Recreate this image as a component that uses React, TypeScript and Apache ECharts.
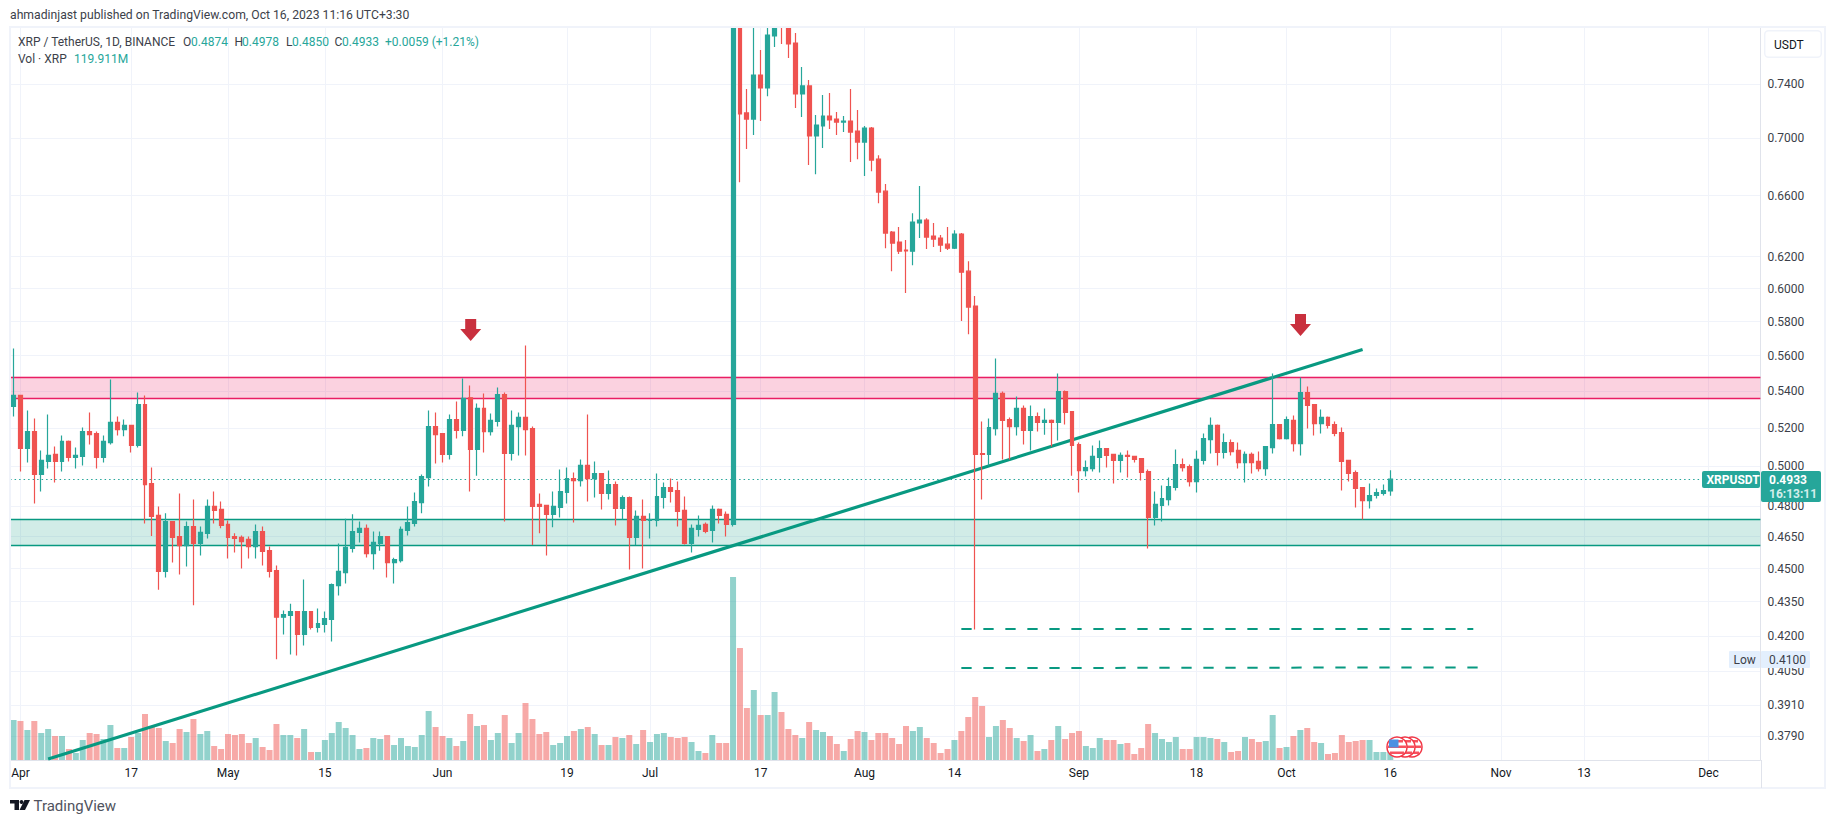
import React, { useEffect, useRef } from "react";
import * as echarts from "echarts";

const opens = [.5316,.5376,.5091,.5180,.4957,.5024,.5060,.5024,.5128,.5044,.5050,.5180,.5170,.5044,.5122,.5229,.5191,.5213,.5107,.5326,
.4911,.4753,.4487,.4723,.4651,.4608,.4699,.4618,.4666,.4797,.4782,.4709,.4651,.4647,.4637,.4603,.4675,.4584,.4491,.4281,
.4289,.4306,.4206,.4306,.4236,.4249,.4271,.4422,.4482,.4594,.4671,.4690,.4570,.4618,.4651,.4528,.4537,.4680,.4714,.4816,
.4941,.5207,.5170,.5060,.5245,.5186,.5363,.5086,.5305,.5180,.5234,.5381,.5065,.5207,.5256,.5196,.4807,.4802,.4758,.4792,
.4866,.4936,.4926,.5003,.4936,.4962,.4861,.4906,.4787,.4841,.4647,.4748,.4728,.4728,.4841,.4891,.4876,.4777,.4618,.4685,
.4709,.4680,.4782,.4758,.4709,.8100,.7186,.7141,.7471,.7373,.7777,.8000,.7900,.7721,.7327,.7388,.7018,.7090,.7163,.7141,
.7119,.7126,.7053,.6974,.7075,.6853,.6631,.6358,.6293,.6241,.6235,.6418,.6437,.6332,.6319,.6280,.6254,.6345,.6108,.5893,
.5065,.5060,.5196,.5387,.5245,.5207,.5305,.5186,.5261,.5229,.5240,.5229,.5398,.5288,.5112,.4977,.4987,.5044,.5091,.5060,
.5029,.5055,.5050,.5039,.4972,.4743,.4802,.4831,.4891,.5008,.4997,.4921,.5029,.5138,.5213,.5070,.5122,.5081,.5018,.5060,
.5024,.4987,.5096,.5218,.5143,.5240,.5117,.5392,.5326,.5223,.5256,.5218,.5175,.5029,.4967,.4891,.4826,.4851,.4861,.4874];
const highs = [.5642,.5380,.5294,.5250,.5081,.5272,.5101,.5160,.5133,.5096,.5202,.5283,.5180,.5160,.5465,.5261,.5245,.5215,.5392,.5376,
.4992,.4797,.4763,.4725,.4861,.4723,.4831,.4699,.4831,.4871,.4821,.4728,.4666,.4656,.4651,.4709,.4699,.4603,.4514,.4311,
.4341,.4308,.4450,.4308,.4319,.4306,.4432,.4618,.4736,.4758,.4723,.4709,.4675,.4675,.4653,.4551,.4699,.4797,.4866,.4957,
.5294,.5283,.5172,.5272,.5343,.5471,.5431,.5332,.5387,.5277,.5420,.5392,.5294,.5283,.5659,.5207,.4861,.4804,.4871,.4982,
.4992,.4967,.5034,.5272,.5024,.4964,.4977,.4921,.4851,.4846,.4777,.4831,.4763,.4962,.4916,.4936,.4921,.4846,.4709,.4753,
.4718,.4802,.4787,.4772,.9300,.8800,.7365,.8000,.7665,.7950,.8300,.8100,.8000,.7801,.7533,.7433,.7171,.7319,.7335,.7193,
.7163,.7365,.7208,.7090,.7083,.6881,.6680,.6365,.6391,.6306,.6483,.6666,.6450,.6418,.6339,.6391,.6371,.6352,.6171,.5954,
.5234,.5250,.5584,.5398,.5256,.5370,.5321,.5321,.5283,.5305,.5245,.5499,.5404,.5290,.5122,.5029,.5107,.5133,.5093,.5062,
.5070,.5081,.5052,.5041,.4982,.4871,.4901,.4941,.5086,.5039,.5008,.5081,.5170,.5256,.5218,.5170,.5138,.5122,.5075,.5070,
.5075,.5103,.5499,.5220,.5261,.5267,.5476,.5426,.5328,.5299,.5261,.5234,.5202,.5031,.4977,.4893,.4911,.4886,.4906,.4978];
const lows = [.5261,.4972,.5018,.4811,.4871,.4987,.4916,.4972,.5024,.4987,.5003,.5112,.4987,.5018,.5112,.5160,.5155,.5070,.5096,.4714,
.4653,.4404,.4459,.4528,.4473,.4510,.4334,.4561,.4642,.4714,.4690,.4547,.4575,.4501,.4547,.4547,.4514,.4459,.4100,.4206,
.4120,.4116,.4158,.4227,.4214,.4214,.4175,.4377,.4432,.4575,.4623,.4552,.4496,.4584,.4459,.4432,.4528,.4656,.4699,.4763,
.4896,.5013,.5018,.5034,.5143,.5155,.4871,.4951,.5070,.5160,.5207,.4723,.5029,.5055,.5055,.4611,.4666,.4561,.4695,.4743,
.4811,.4718,.4896,.4821,.4841,.4782,.4831,.4704,.4733,.4496,.4611,.4501,.4642,.4699,.4787,.4816,.4699,.4613,.4575,.4651,
.4666,.4623,.4714,.4651,.4699,.6693,.6924,.7025,.7126,.7311,.7689,.7713,.7603,.7222,.7156,.6811,.6748,.6931,.7068,.7025,
.7046,.6832,.6853,.6735,.6769,.6550,.6254,.6108,.6216,.5972,.6146,.6319,.6248,.6261,.6229,.6242,.6248,.5803,.5725,.4227,
.4831,.5003,.5160,.5034,.5034,.5160,.5112,.5081,.5180,.5164,.5101,.5133,.5218,.4951,.4866,.4946,.4972,.4967,.4992,.4911,
.4967,.4941,.5018,.4926,.4594,.4704,.4723,.4802,.4876,.4972,.4896,.4866,.5008,.5065,.5003,.5039,.5055,.4987,.4916,.4962,
.4972,.4951,.5065,.5138,.5138,.5075,.5055,.5196,.5160,.5170,.5196,.5155,.4876,.4921,.4792,.4733,.4787,.4836,.4851,.4850];
const closes = [.5376,.5091,.5180,.4957,.5029,.5055,.5024,.5128,.5044,.5055,.5180,.5164,.5044,.5128,.5229,.5191,.5213,.5107,.5326,.4906,
.4748,.4487,.4723,.4647,.4608,.4699,.4618,.4671,.4797,.4777,.4704,.4647,.4642,.4627,.4603,.4675,.4580,.4487,.4281,.4293,
.4306,.4206,.4306,.4236,.4253,.4275,.4427,.4487,.4599,.4675,.4690,.4570,.4623,.4651,.4528,.4542,.4685,.4718,.4821,.4946,
.5207,.5164,.5060,.5245,.5186,.5360,.5086,.5305,.5180,.5240,.5381,.5065,.5213,.5256,.5191,.4797,.4797,.4758,.4797,.4871,
.4936,.4926,.5003,.4936,.4962,.4861,.4906,.4787,.4841,.4647,.4748,.4728,.4733,.4846,.4891,.4871,.4772,.4618,.4690,.4704,
.4675,.4782,.4753,.4709,.8100,.7178,.7141,.7471,.7373,.7785,.8000,.7900,.7713,.7327,.7388,.7018,.7097,.7163,.7134,.7119,
.7126,.7046,.6974,.7075,.6846,.6625,.6352,.6287,.6235,.6236,.6424,.6437,.6326,.6313,.6274,.6254,.6345,.6102,.5887,.5060,
.5060,.5202,.5387,.5240,.5207,.5305,.5186,.5261,.5229,.5240,.5229,.5398,.5283,.5107,.4977,.4992,.5050,.5091,.5055,.5029,
.5055,.5050,.5034,.4967,.4743,.4807,.4836,.4896,.5008,.4992,.4921,.5034,.5143,.5213,.5070,.5122,.5075,.5018,.5060,.5018,
.4987,.5101,.5218,.5143,.5245,.5117,.5392,.5321,.5223,.5256,.5213,.5170,.5024,.4962,.4886,.4826,.4851,.4866,.4876,.4933];
const volumes = [600,585,450,585,405,465,360,360,165,105,300,405,390,315,525,180,180,345,405,690,
510,480,285,255,465,420,615,390,435,210,165,390,375,390,255,330,195,150,540,375,
375,330,465,120,120,300,405,570,480,375,165,180,330,315,375,225,330,210,195,375,
735,495,360,330,210,285,690,510,525,300,405,675,255,405,855,615,390,420,225,255,
360,435,465,495,390,225,225,345,330,375,240,450,270,390,405,345,330,345,270,135,
105,375,255,255,2745,1680,780,1050,675,675,1020,720,465,375,330,570,450,420,360,240,
135,315,435,420,300,405,405,330,240,510,435,495,330,255,105,165,300,435,645,945,
810,345,510,600,480,330,285,375,135,165,300,510,315,405,435,210,180,330,300,300,
240,255,90,180,540,405,315,270,345,165,165,345,345,330,315,270,120,135,345,315,
270,285,675,180,195,360,450,480,270,255,90,105,375,270,285,300,300,120,120,119.911];

const xTickLabels: Record<string, string> = {
  "2023-04-01": "Apr", "2023-04-17": "17", "2023-05-01": "May", "2023-05-15": "15", "2023-06-01": "Jun",
  "2023-06-19": "19", "2023-07-01": "Jul", "2023-07-17": "17", "2023-08-01": "Aug", "2023-08-14": "14",
  "2023-09-01": "Sep", "2023-09-18": "18", "2023-10-01": "Oct", "2023-10-16": "16", "2023-11-01": "Nov",
  "2023-11-13": "13", "2023-12-01": "Dec",
};
const yTicks = [0.74, 0.7, 0.66, 0.62, 0.6, 0.58, 0.56, 0.54, 0.52, 0.5, 0.48, 0.465, 0.45, 0.435, 0.42, 0.405, 0.391, 0.379];
const resistanceZone = [0.548, 0.5362];
const supportZone = [0.4735, 0.4611];
const trendLine = [[5, 0.3701], [195, 0.5636]];
const dashedLineA = [[137, 0.4229], [211, 0.4229]];
const dashedLineB = [[137, 0.4063], [212, 0.4066]];
const lastPrice = 0.4933;

const categories: string[] = [];
for (let i = 0; i < 253; i++) {
  categories.push(new Date(Date.UTC(2023, 2, 31 + i)).toISOString().slice(0, 10));
}

const TEAL = "#26a69a";
const RED = "#ef5350";
const LINE = "#089981";
const PINK = "#e91e63";
const GRID = "#f0f3fa";
const FRAME = "#e0e3eb";
const FONT = "Roboto";

const txt = (text: string, x: number, y: number, fill = "#131722", font = `12px ${FONT}`, align = "left") => ({
  type: "text", z: 20, silent: true,
  style: { text, x, y, fill, font, align, verticalAlign: "middle" },
});
const rect = (x: number, y: number, width: number, height: number, fill: string, r = 0) => ({
  type: "rect", z: 19, silent: true, shape: { x, y, width, height, r }, style: { fill },
});
const arrow = (tipX: number, tipY: number) => ({
  type: "polygon", z: 18, silent: true,
  shape: {
    points: [
      [tipX - 5.5, tipY - 22], [tipX + 5.5, tipY - 22], [tipX + 5.5, tipY - 12], [tipX + 10.5, tipY - 12],
      [tipX, tipY], [tipX - 10.5, tipY - 12], [tipX - 5.5, tipY - 12],
    ],
  },
  style: { fill: "#c9303e" },
});
const flag = (cx: number, cy: number, detailed: boolean) => {
  const parts: any[] = [
    { type: "circle", z: 17, silent: true, shape: { cx, cy, r: 10 }, style: { fill: "#fff", stroke: "#f23645", lineWidth: 1.5 } },
    { type: "rect", z: 17, silent: true, shape: { x: cx - 9, y: cy - 1.5, width: 18, height: 2.5 }, style: { fill: "#f7525f" } },
    { type: "rect", z: 17, silent: true, shape: { x: cx - 7, y: cy + 4.5, width: 14, height: 2.5 }, style: { fill: "#f7525f" } },
    { type: "rect", z: 17, silent: true, shape: { x: cx - 6, y: cy - 7, width: 12, height: 2.5 }, style: { fill: "#f7525f" } },
  ];
  if (detailed) {
    parts.push({ type: "rect", z: 17, silent: true, shape: { x: cx - 8, y: cy - 7.5, width: 9.5, height: 8 }, style: { fill: "#4a90e2" } });
  }
  return parts;
};
const zoneEdge = (v: number, color: string) => ({ yAxis: v, lineStyle: { color, type: "solid", width: 1.4 } });

export default function App() {
  const ref = useRef<HTMLDivElement>(null);
  useEffect(() => {
    document.body.style.margin = "0";
    const chart = echarts.init(ref.current!, undefined, { renderer: "svg" });
    chart.setOption({
      animation: false,
      backgroundColor: "#ffffff",
      textStyle: { fontFamily: FONT },
      grid: { left: 10.1, top: 28, width: 1750.3, height: 732, containLabel: false },
      xAxis: {
        type: "category",
        data: categories,
        boundaryGap: true,
        axisLine: { show: true, lineStyle: { color: FRAME, width: 1 } },
        axisTick: { show: false, alignWithLabel: true, interval: (i: number, v: string) => v in xTickLabels },
        axisLabel: {
          show: true,
          interval: (i: number, v: string) => v in xTickLabels,
          formatter: (v: string) => xTickLabels[v] ?? "",
          color: "#131722",
          fontSize: 12,
          fontFamily: FONT,
          margin: 7,
          hideOverlap: false,
        },
        splitLine: {
          show: true,
          alignWithLabel: true,
          interval: (i: number, v: string) => v in xTickLabels,
          lineStyle: { color: GRID, width: 1 },
        },
      },
      yAxis: [
        {
          type: "log",
          logBase: 10,
          min: 0.3697,
          max: 0.7841,
          position: "right",
          axisLine: { show: true, lineStyle: { color: FRAME, width: 1 } },
          axisTick: { show: false, customValues: yTicks },
          axisLabel: {
            show: true,
            customValues: yTicks,
            formatter: (v: number) => v.toFixed(4),
            color: "#3c3f4a",
            fontSize: 12,
            fontFamily: FONT,
            margin: 7,
            padding: [0, 0, 1, 0],
            hideOverlap: false,
          },
          splitLine: { show: true, lineStyle: { color: GRID, width: 1 } },
        },
        { type: "value", min: 0, max: 10980, show: false, splitLine: { show: false } },
      ],
      series: [
        {
          type: "bar",
          name: "Vol",
          yAxisIndex: 1,
          z: 3,
          barWidth: 6,
          silent: true,
          data: volumes.map((v, i) => ({
            value: v,
            itemStyle: { color: closes[i] >= opens[i] ? "rgba(38,166,154,0.5)" : "rgba(239,83,80,0.5)" },
          })),
        },
        {
          type: "line", name: "Trend", z: 4, silent: true, showSymbol: false, symbol: "none",
          data: trendLine, lineStyle: { color: LINE, width: 3.2 },
          markArea: {
            silent: true,
            z: 1,
            data: [
              [
                { yAxis: resistanceZone[0], itemStyle: { color: "rgba(233,30,99,0.2)", borderWidth: 0 } },
                { yAxis: resistanceZone[1] },
              ],
              [
                { yAxis: supportZone[0], itemStyle: { color: "rgba(8,153,129,0.19)", borderWidth: 0 } },
                { yAxis: supportZone[1] },
              ],
            ],
          },
          markLine: {
            silent: true, symbol: "none", z: 2, precision: 4,
            label: { show: false },
            lineStyle: { color: TEAL, type: [1.5, 3], width: 1 },
            data: [
              { yAxis: lastPrice },
              zoneEdge(resistanceZone[0], PINK),
              zoneEdge(resistanceZone[1], PINK),
              zoneEdge(supportZone[0], LINE),
              zoneEdge(supportZone[1], LINE),
            ],
          },
        },
        {
          type: "candlestick",
          name: "XRPUSDT",
          z: 5,
          silent: true,
          barWidth: 4.4,
          data: opens.map((o, i) => [o, closes[i], lows[i], highs[i]]),
          itemStyle: { color: TEAL, color0: RED, borderColor: TEAL, borderColor0: RED, borderWidth: 1.2 },
        },
        {
          type: "line", name: "Target A", z: 6, silent: true, showSymbol: false, symbol: "none",
          data: dashedLineA, lineStyle: { color: LINE, width: 2, type: [10.3, 11.7] },
        },
        {
          type: "line", name: "Target B", z: 6, silent: true, showSymbol: false, symbol: "none",
          data: dashedLineB, lineStyle: { color: LINE, width: 2, type: [10.3, 11.7] },
        },
      ],
      graphic: [
        { type: "rect", z: 15, silent: true, shape: { x: 0, y: 0, width: 1835, height: 27 }, style: { fill: "#ffffff" } },
        { type: "rect", z: 16, silent: true, shape: { x: 10, y: 27, width: 1815, height: 761 }, style: { fill: "none", stroke: GRID, lineWidth: 2 } },
        { type: "line", z: 16, silent: true, shape: { x1: 1761.5, y1: 760, x2: 1761.5, y2: 788 }, style: { stroke: FRAME, lineWidth: 1 } },
        txt("ahmadinjast published on TradingView.com, Oct 16, 2023 11:16 UTC+3:30", 10, 15, "#3c3f4a", `12.2px ${FONT}`),
        txt("XRP / TetherUS, 1D, BINANCE", 18, 41.5, "#3c3f4a"),
        txt("O", 183, 41.5, "#3c3f4a"), txt("0.4874", 191, 41.5, TEAL),
        txt("H", 234.5, 41.5, "#3c3f4a"), txt("0.4978", 242, 41.5, TEAL),
        txt("L", 286, 41.5, "#3c3f4a"), txt("0.4850", 292, 41.5, TEAL),
        txt("C", 334.5, 41.5, "#3c3f4a"), txt("0.4933", 342, 41.5, TEAL),
        txt("+0.0059 (+1.21%)", 385, 41.5, TEAL),
        txt("Vol · XRP", 18, 59, "#3c3f4a"), txt("119.911M", 74, 59, TEAL),
        arrow(470.7, 341),
        arrow(1300.5, 336),
        ...flag(1412, 747, false),
        ...flag(1405, 747, false),
        ...flag(1397, 747, true),
        { type: "rect", z: 19, silent: true, shape: { x: 1764.7, y: 30.7, width: 56.6, height: 26.6, r: 4 }, style: { fill: "#fff", stroke: GRID, lineWidth: 1.5 } },
        txt("USDT", 1774, 44.5, "#131722"),
        rect(1702, 471, 58, 17, TEAL, 2),
        txt("XRPUSDT", 1706.5, 480, "#ffffff", `bold 12px ${FONT}`),
        rect(1761, 471, 60, 31, TEAL, 2),
        txt("0.4933", 1769, 480, "#ffffff", `bold 12px ${FONT}`),
        txt("16:13:11", 1769, 494, "#d4eeeb", `bold 12px ${FONT}`),
        rect(1729, 651, 31, 17, "#e3effd", 1),
        txt("Low", 1733.5, 660, "#3c3f4a"),
        rect(1761, 651, 49, 17, "#e3effd", 1),
        txt("0.4100", 1769, 660, "#3c3f4a"),
        { type: "polygon", z: 20, silent: true, shape: { points: [[10, 800], [19, 800], [19, 810], [14.5, 810], [14.5, 803.5], [10, 803.5]] }, style: { fill: "#131722" } },
        { type: "circle", z: 20, silent: true, shape: { cx: 21.5, cy: 802, r: 1.9 }, style: { fill: "#131722" } },
        { type: "polygon", z: 20, silent: true, shape: { points: [[24.5, 800], [30, 800], [25, 810], [19.5, 810]] }, style: { fill: "#131722" } },
        txt("TradingView", 33.5, 805.5, "#50535e", `15px ${FONT}`),
      ],
    });
    return () => chart.dispose();
  }, []);
  return <div ref={ref} style={{ position: "absolute", left: 0, top: 0, width: 1835, height: 823 }} />;
}
